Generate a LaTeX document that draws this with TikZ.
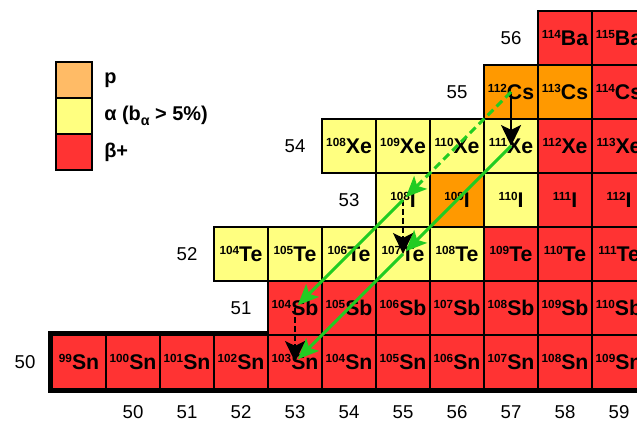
\documentclass[tikz,border=0pt]{standalone}
\usepackage{fontspec}
\setmainfont{Liberation Sans}
\usetikzlibrary{positioning,arrows.meta}

\definecolor{betared}{RGB}{255,51,51}
\definecolor{alphayellow}{RGB}{255,255,128}
\definecolor{protorange}{RGB}{255,153,0}
\definecolor{protlight}{RGB}{255,187,102}
\definecolor{decaygreen}{RGB}{34,204,34}

\newcommand{\iso}[2]{\raisebox{3.6pt}{\fontsize{6.2}{6.2}\selectfont #1}#2}

\begin{document}
\begin{tikzpicture}[x=1cm,y=1cm,
  cell/.style={draw, rectangle, line width=1.4pt, minimum width=1cm, minimum height=1cm,
    inner sep=0pt, font=\bfseries\fontsize{11.2}{13}\selectfont},
  betabox/.style={cell, fill=betared},
  alphabox/.style={cell, fill=alphayellow},
  protbox/.style={cell, fill=protorange},
  legbox/.style={draw, rectangle, line width=1.4pt, minimum size=0.667cm, outer sep=0pt},
  legtext/.style={inner sep=0pt, font=\bfseries\fontsize{10.5}{12}\selectfont},
  numlabel/.style={font=\fontsize{9.8}{11}\selectfont},
  parrow/.style={line width=1.4pt, -{Stealth[length=11pt,width=10.5pt,inset=2.5pt]}},
  aarrow/.style={line width=1.6pt, decaygreen, shorten >=2pt,
    -{Stealth[length=11pt,width=9.5pt,inset=2.5pt]}},
  pdash/.style={dash pattern=on 3pt off 1.8pt},
  adash/.style={dash pattern=on 4.2pt off 2.4pt}]
\useasboundingbox (47.537,48.926) rectangle (59.333,56.704);

% Z = 50
\foreach \a in {99,...,109}
  \node[betabox] (Sn\a) at (\a-50,50) {\iso{\a}{Sn}};
\draw[line width=2.4pt] (Sn99.north west) rectangle (Sn109.south east);
% Z = 51
\foreach \a in {104,...,110}
  \node[betabox] (Sb\a) at (\a-51,51) {\iso{\a}{Sb}};
% Z = 52
\foreach \a in {104,...,108}
  \node[alphabox] (Te\a) at (\a-52,52) {\iso{\a}{Te}};
\foreach \a in {109,110,111}
  \node[betabox] (Te\a) at (\a-52,52) {\iso{\a}{Te}};
% Z = 53
\node[alphabox] (I108) at (55,53) {\iso{108}{I}};
\node[protbox] (I109) at (56,53) {\iso{109}{I}};
\node[alphabox] (I110) at (57,53) {\iso{110}{I}};
\node[betabox] (I111) at (58,53) {\iso{111}{I}};
\node[betabox] (I112) at (59,53) {\iso{112}{I}};
% Z = 54
\foreach \a in {108,...,111}
  \node[alphabox] (Xe\a) at (\a-54,54) {\iso{\a}{Xe}};
\foreach \a in {112,113}
  \node[betabox] (Xe\a) at (\a-54,54) {\iso{\a}{Xe}};
% Z = 55
\node[protbox] (Cs112) at (57,55) {\iso{112}{Cs}};
\node[protbox] (Cs113) at (58,55) {\iso{113}{Cs}};
\node[betabox] (Cs114) at (59,55) {\iso{114}{Cs}};
% Z = 56
\node[betabox] (Ba114) at (58,56) {\iso{114}{Ba}};
\node[betabox] (Ba115) at (59,56) {\iso{115}{Ba}};

% proton numbers
\node[numlabel] (z50) at (48,50) {50};
\node[numlabel] (z51) at (52,51) {51};
\node[numlabel] (z52) at (51,52) {52};
\node[numlabel] (z53) at (54,53) {53};
\node[numlabel] (z54) at (53,54) {54};
\node[numlabel] (z55) at (56,55) {55};
\node[numlabel] (z56) at (57,56) {56};
% neutron numbers
\foreach \n in {50,...,59}
  \node[numlabel] (n\n) at (\n,49.074) {\n};

% legend
\node[legbox, fill=protlight] (legp) at (48.907,55.222) {};
\node[legbox, fill=alphayellow, below=0pt of legp] (lega) {};
\node[legbox, fill=betared, below=0pt of lega] (legb) {};
\node[legtext, right=0.22cm of legp] (txtp) {p};
\node[legtext, right=0.22cm of lega] (txta) {α (b\raisebox{-2.8pt}{\fontsize{7.5}{7.5}\selectfont α} > 5\%)};
\node[legtext, right=0.22cm of legb] (txtb) {β+};

% decay paths
\draw[parrow] (Cs112.center) -- (Xe111.center);
\draw[aarrow, adash] (Cs112.center) -- (I108.center);
\draw[aarrow] (Xe111.center) -- (Te107.center);
\draw[parrow, pdash] (I108.center) -- (Te107.center);
\draw[aarrow] (I108.center) -- (Sb104.center);
\draw[aarrow] (Te107.center) -- (Sn103.center);
\draw[parrow, pdash] (Sb104.center) -- (Sn103.center);
\end{tikzpicture}
\end{document}
